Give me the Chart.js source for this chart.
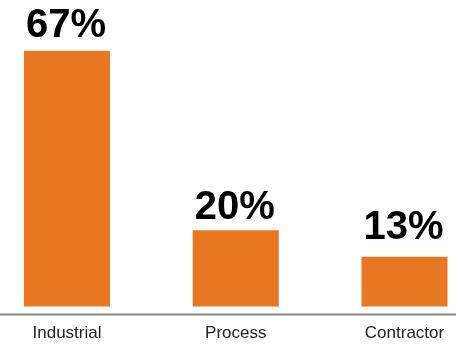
<!DOCTYPE html>
<html>
<head>
<meta charset="utf-8">
<script src="https://cdn.jsdelivr.net/npm/chart.js@4"></script>
<style>
  html, body { margin: 0; padding: 0; background: #fff; }
  #wrap { width: 456px; height: 346px; }
</style>
</head>
<body>
<div id="wrap"><canvas id="shareChart"></canvas></div>
<script>
const categories = ['Industrial', 'Process', 'Contractor'];
const shares = [67, 20, 13];
const labelGap = [14, 11, 18];

// Value labels above each bar
const valueLabels = {
    id: 'valueLabels',
    afterDatasetsDraw(chart) {
        const ctx = chart.ctx;
        const meta = chart.getDatasetMeta(0);
        ctx.save();
        ctx.font = 'bold 40px "Liberation Sans", Arial, sans-serif';
        ctx.fillStyle = '#000';
        ctx.textAlign = 'center';
        ctx.textBaseline = 'alphabetic';
        meta.data.forEach((bar, i) => {
            ctx.fillText(shares[i] + '%', bar.x - 1, bar.y - labelGap[i]);
        });
        ctx.restore();
    }
};

// Baseline running across the whole width
const baseLine = {
    id: 'baseLine',
    beforeDatasetsDraw(chart) {
        const ctx = chart.ctx;
        const y = chart.chartArea.bottom;
        ctx.save();
        ctx.strokeStyle = '#888888';
        ctx.lineWidth = 2;
        ctx.beginPath();
        ctx.moveTo(0, y);
        ctx.lineTo(chart.width, y);
        ctx.stroke();
        ctx.restore();
    }
};

function initChart() {
    const ctx = document.getElementById('shareChart').getContext('2d');
    new Chart(ctx, {
        type: 'bar',
        data: { labels: categories, datasets: [{ data: shares, backgroundColor: '#E87722', borderWidth: 0, categoryPercentage: 1, barPercentage: 0.51, clip: false }] },
        options: {
            responsive: true, maintainAspectRatio: false, animation: false,
            layout: { padding: { left: 67, right: 51.5, top: 0, bottom: -6.9 } },
            plugins: { legend: { display: false }, tooltip: { enabled: false } },
            scales: {
                x: { offset: false, grid: { display: false, drawTicks: false, tickLength: 0 }, border: { display: false }, ticks: { color: '#222', padding: 9, maxRotation: 0, autoSkip: false, font: { family: '"Liberation Sans", Arial, sans-serif', size: 17 } } },
                y: { display: false, min: -2.1, max: 80.3 }
            }
        },
        plugins: [baseLine, valueLabels]
    });
}

initChart();
</script>
</body>
</html>
